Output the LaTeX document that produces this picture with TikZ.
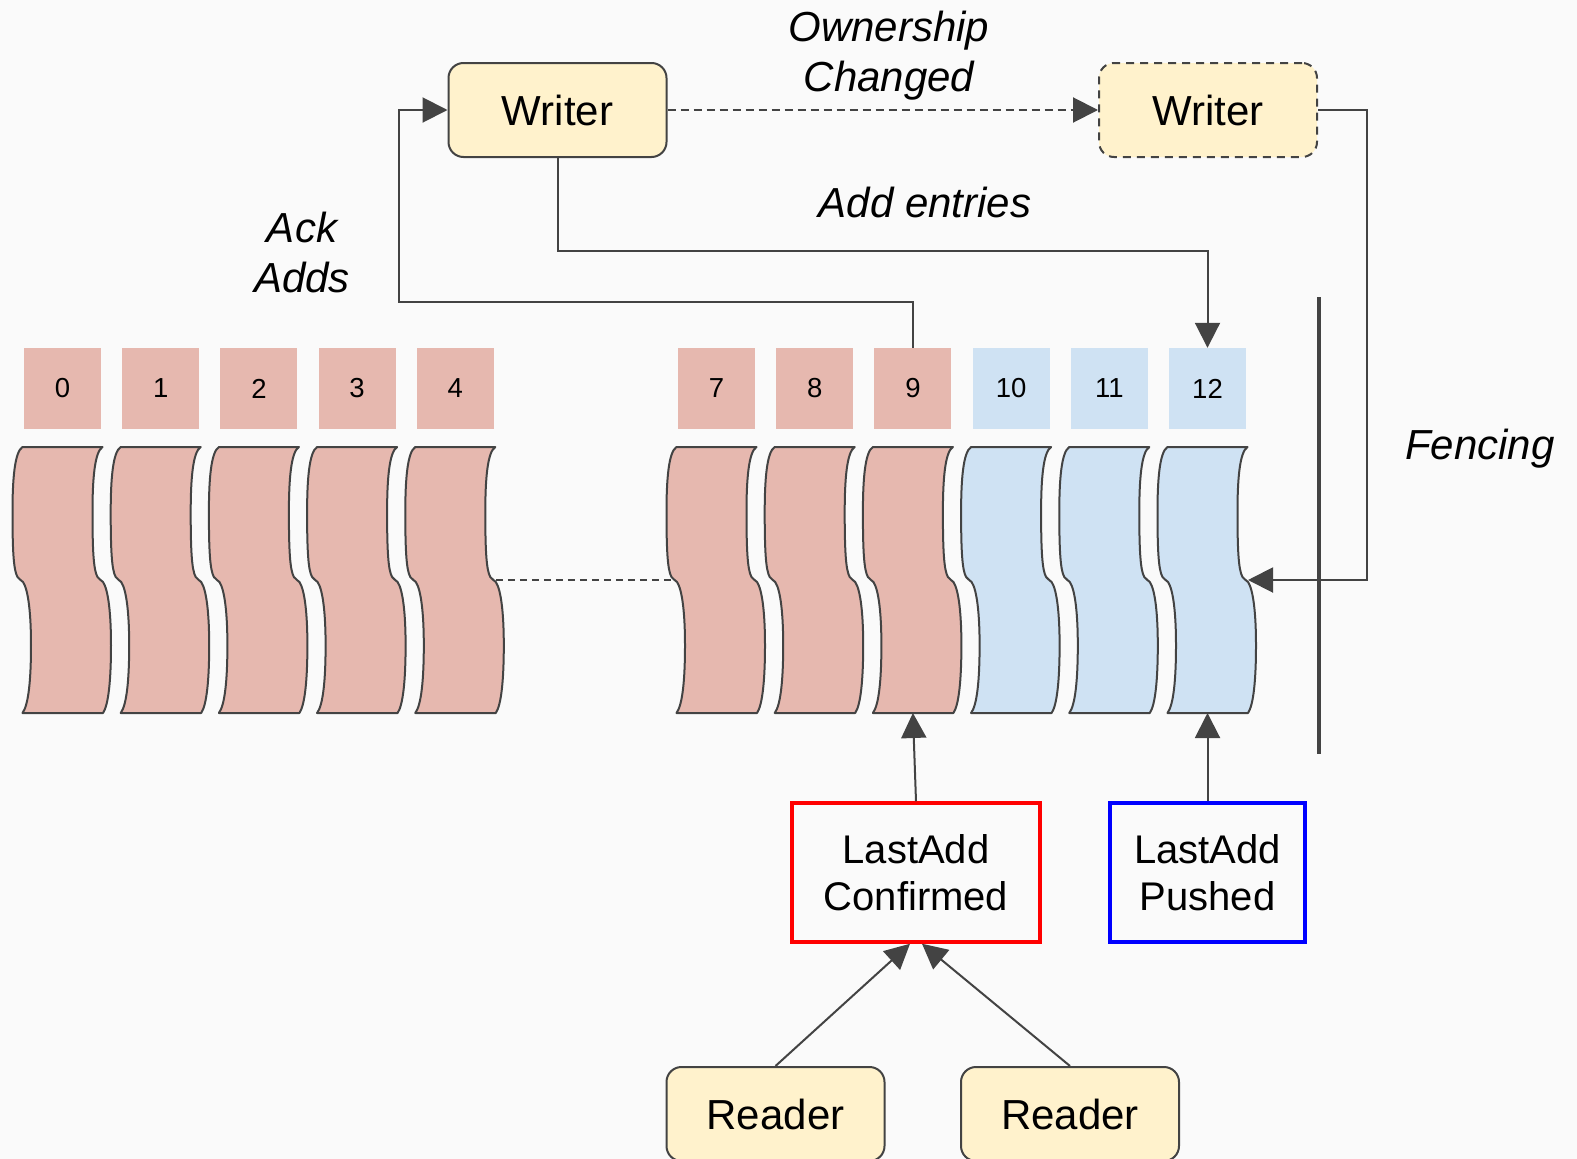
\documentclass[tikz,border=0pt]{standalone}
\usepackage{fontspec}
\setmainfont{Liberation Sans}
\usetikzlibrary{arrows.meta,calc}

\definecolor{bg}{HTML}{FAFAFA}
\definecolor{ink}{HTML}{434343}
\definecolor{rosefill}{HTML}{E6B8AF}
\definecolor{skyfill}{HTML}{CFE2F3}
\definecolor{creamfill}{HTML}{FFF2CC}

\tikzset{
  % one ledger entry drawn as a wavy tape, centred on the pic's x position
  pics/tape/.style={code={
    \draw[ink, line width=2pt, line join=round, fill=#1]
      (-40,447) -- (40,447)
      .. controls (32,452) and (30,480) .. (30,512)
      .. controls (30,550) and (31,570) .. (35,577)
      .. controls (37,580) and (39,580) .. (40.5,582)
      .. controls (46,590) and (48.5,615) .. (48.5,645)
      .. controls (48.5,680) and (46,705) .. (40.5,713)
      -- (-40,713)
      .. controls (-34,705) and (-31.5,680) .. (-31.5,645)
      .. controls (-31.5,615) and (-34,590) .. (-39.5,582)
      .. controls (-41,580) and (-43,580) .. (-45,577)
      .. controls (-49,570) and (-50,550) .. (-50,512)
      .. controls (-50,480) and (-48,452) .. (-40,447) -- cycle;
  }},
  entryid/.style={minimum width=77pt, minimum height=81pt, inner sep=0pt,
    font=\fontsize{27.5}{32}\selectfont},
  rolebox/.style={draw=ink, line width=2pt, fill=creamfill, rounded corners=15pt,
    minimum width=218pt, minimum height=94pt, inner sep=0pt,
    font=\fontsize{42}{50}\selectfont},
  pointer/.style={line width=3.5pt, minimum height=139pt, inner sep=0pt, align=center,
    font=\fontsize{40}{46.5}\selectfont},
  caption/.style={align=center, inner sep=0pt, font=\fontsize{42}{50}\selectfont\itshape},
  link/.style={ink, line width=2pt, -{Triangle[length=25pt,width=25pt]}},
  dashlink/.style={link, dash pattern=on 8pt off 5pt},
}

\begin{document}
\begin{tikzpicture}[x=1pt, y={(0pt,-1pt)}]
  \useasboundingbox (0,0) rectangle (1577,1159);
  \fill[bg] (0,0) rectangle (1577,1159);

  % entries 0-4 and 7-9 (confirmed), 10-12 (pushed only)
  \foreach \i/\cx/\col in {0/62.5/rosefill, 1/160.7/rosefill, 2/258.9/rosefill,
      3/357.1/rosefill, 4/455.3/rosefill, 7/716.5/rosefill, 8/814.7/rosefill,
      9/912.9/rosefill, 10/1011.1/skyfill, 11/1109.3/skyfill, 12/1207.5/skyfill} {
    \node[entryid, fill=\col] (n\i) at (\cx,388.5) {\i};
    \pic at (\cx,0) {tape=\col};
    \coordinate (t\i b) at (\cx,713);
    \coordinate (t\i r) at (\cx+40.5,580);
    \coordinate (t\i l) at (\cx-43,580);
  }

  % gap between entry 4 and entry 7
  \draw[ink, line width=1.5pt, dash pattern=on 7pt off 5pt] (t4r) -- (t7l);

  % writers
  \node[rolebox] (w1) at (557.5,110) {Writer};
  \node[rolebox, dash pattern=on 8pt off 6pt] (w2) at (1208,110) {Writer};

  % fence
  \coordinate (fenceTop) at (1319,297);
  \coordinate (fenceBot) at (1319,754);
  \draw[ink, line width=4pt] (fenceTop) -- (fenceBot);

  % LAC / LAP pointers
  \node[pointer, draw=red, minimum width=248pt] (lac) at (916,872.5) {LastAdd\\Confirmed};
  \node[pointer, draw=blue, minimum width=195pt] (lap) at (1207.5,872.5) {LastAdd\\Pushed};

  % readers
  \node[rolebox] (r1) at (775.5,1114) {Reader};
  \node[rolebox] (r2) at (1070,1114) {Reader};

  % captions
  \node[caption] (capOwn) at (889,56) {Ownership\\Changed};
  \node[caption] (capAdd) at (925,202) {Add entries};
  \node[caption] (capAck) at (302,252) {Ack\\Adds};
  \node[caption] (capFence) at (1480,449) {Fencing};

  % connectors
  \draw[dashlink] (w1.east) -- (w2.west);
  \coordinate (addTurn) at (1207.5,251);
  \draw[link] (w1.south) |- (addTurn) -- (n12.north);
  \coordinate (ackTurn) at (399,302);
  \draw[link] (n9.north) |- (ackTurn) |- (w1.west);
  \coordinate (fenceTurn) at (1367,110);
  \draw[link] (w2.east) -- (fenceTurn) |- (t12r);
  \draw[link] (lac.north) -- (t9b);
  \draw[link] (lap.north) -- (t12b);
  \coordinate (lacL) at ($(lac.south)+(-6,0)$);
  \coordinate (lacR) at ($(lac.south)+(6,0)$);
  \draw[link] (r1.north) -- (lacL);
  \draw[link] (r2.north) -- (lacR);
\end{tikzpicture}
\end{document}
